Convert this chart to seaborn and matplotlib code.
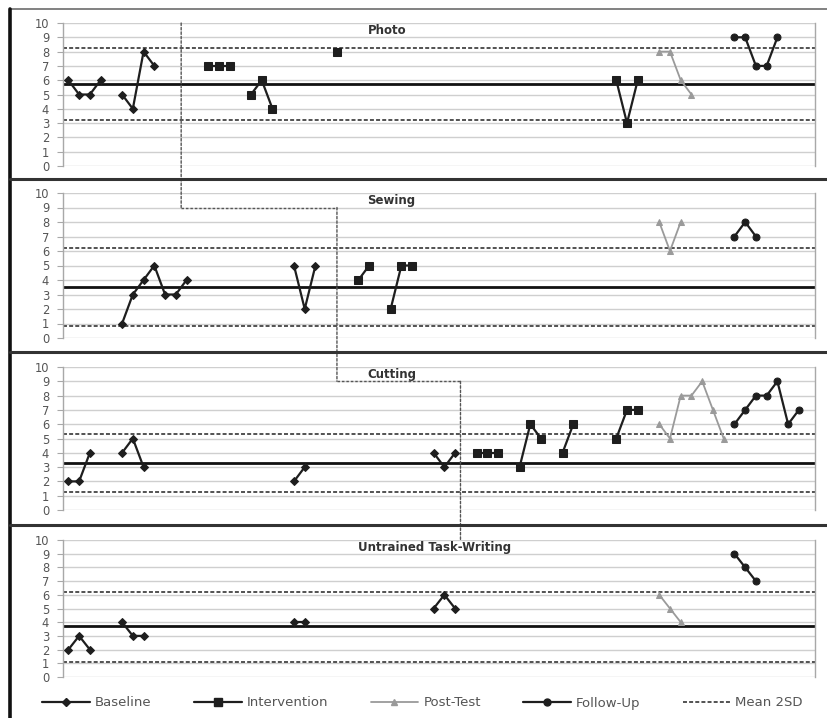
import numpy as np
import pandas as pd
import matplotlib
matplotlib.use("Agg")
import matplotlib.pyplot as plt
from matplotlib.lines import Line2D
from matplotlib.patches import ConnectionPatch
import seaborn as sns

# ---------------- data ----------------
panel_titles = ["Photo", "Sewing", "Cutting", "Untrained Task-Writing"]
y_ticks = [0, 1, 2, 3, 4, 5, 6, 7, 8, 9, 10]
n_sessions = 70

photo_bl_x = [0, 1, 2, 3, 5, 6, 7, 8]
photo_bl_y = [6, 5, 5, 6, 5, 4, 8, 7]
photo_int_x = [13, 14, 15, 17, 18, 19, 25, 51, 52, 53]
photo_int_y = [7, 7, 7, 5, 6, 4, 8, 6, 3, 6]
photo_pt_x = [55, 56, 57, 58]
photo_pt_y = [8, 8, 6, 5]
photo_fu_x = [62, 63, 64, 65, 66]
photo_fu_y = [9, 9, 7, 7, 9]

sewing_bl_x = [5, 6, 7, 8, 9, 10, 11, 21, 22, 23]
sewing_bl_y = [1, 3, 4, 5, 3, 3, 4, 5, 2, 5]
sewing_int_x = [27, 28, 30, 31, 32]
sewing_int_y = [4, 5, 2, 5, 5]
sewing_pt_x = [55, 56, 57]
sewing_pt_y = [8, 6, 8]
sewing_fu_x = [62, 63, 64]
sewing_fu_y = [7, 8, 7]

cutting_bl_x = [0, 1, 2, 5, 6, 7, 21, 22, 34, 35, 36]
cutting_bl_y = [2, 2, 4, 4, 5, 3, 2, 3, 4, 3, 4]
cutting_int_x = [38, 39, 40, 42, 43, 44, 46, 47, 51, 52, 53]
cutting_int_y = [4, 4, 4, 3, 6, 5, 4, 6, 5, 7, 7]
cutting_pt_x = [55, 56, 57, 58, 59, 60, 61]
cutting_pt_y = [6, 5, 8, 8, 9, 7, 5]
cutting_fu_x = [62, 63, 64, 65, 66, 67, 68]
cutting_fu_y = [6, 7, 8, 8, 9, 6, 7]

writing_bl_x = [0, 1, 2, 5, 6, 7, 21, 22, 34, 35, 36]
writing_bl_y = [2, 3, 2, 4, 3, 3, 4, 4, 5, 6, 5]
writing_pt_x = [55, 56, 57]
writing_pt_y = [6, 5, 4]
writing_fu_x = [62, 63, 64]
writing_fu_y = [9, 8, 7]

# baseline mean and mean +/- 2SD bands
band_mean = [5.75, 3.5, 3.3, 3.73]
band_upper = [8.25, 6.2, 5.3, 6.23]
band_lower = [3.2, 0.8, 1.27, 1.12]

# phase-change line: (session, step level)
phase_x = [10.5, 25.0, 36.5]
phase_step_y = 9

# ---------------- style ----------------
sns.set_theme(style="white")
plt.rcParams["font.family"] = ["DejaVu Sans"]

DARK = "#1e1e1e"
GRAY_PT = "#9a9a9a"
series_style = {
    "Baseline": dict(color=DARK, marker="D", markersize=3.6, linewidth=1.6),
    "Intervention": dict(color=DARK, marker="s", markersize=5.6, linewidth=1.6),
    "Post-Test": dict(color=GRAY_PT, marker="^", markersize=4.0, linewidth=1.3),
    "Follow-Up": dict(color=DARK, marker="o", markersize=5.0, linewidth=1.6),
}

panels = [
    {"Baseline": (photo_bl_x, photo_bl_y), "Intervention": (photo_int_x, photo_int_y),
     "Post-Test": (photo_pt_x, photo_pt_y), "Follow-Up": (photo_fu_x, photo_fu_y)},
    {"Baseline": (sewing_bl_x, sewing_bl_y), "Intervention": (sewing_int_x, sewing_int_y),
     "Post-Test": (sewing_pt_x, sewing_pt_y), "Follow-Up": (sewing_fu_x, sewing_fu_y)},
    {"Baseline": (cutting_bl_x, cutting_bl_y), "Intervention": (cutting_int_x, cutting_int_y),
     "Post-Test": (cutting_pt_x, cutting_pt_y), "Follow-Up": (cutting_fu_x, cutting_fu_y)},
    {"Baseline": (writing_bl_x, writing_bl_y),
     "Post-Test": (writing_pt_x, writing_pt_y), "Follow-Up": (writing_fu_x, writing_fu_y)},
]

W, H = 827, 718
fig = plt.figure(figsize=(W / 100, H / 100), dpi=100)

# axes rectangles in pixels: (top_px, bottom_px)
ax_px = [(23, 166), (193, 338), (367, 510), (540, 677)]
left_px, right_px = 63, 815
title_left = [0.405, 0.404, 0.405, 0.392]

axes = []
for i, (top, bot) in enumerate(ax_px):
    ax = fig.add_axes([left_px / W, 1 - bot / H, (right_px - left_px) / W, (bot - top) / H])
    axes.append(ax)
    ax.set_xlim(-0.5, n_sessions - 0.5)
    ax.set_ylim(0, 10)
    ax.set_yticks(y_ticks)
    ax.set_yticklabels([str(t) for t in y_ticks], fontsize=8.3, color="#555555")
    ax.set_xticks([])
    ax.grid(axis="y", color="#cfcfcf", linewidth=1.0)
    ax.set_axisbelow(True)
    for s in ["top", "bottom"]:
        ax.spines[s].set_visible(False)
    for s in ["left", "right"]:
        ax.spines[s].set_visible(True)
        ax.spines[s].set_color("#a8a8a8")
        ax.spines[s].set_linewidth(1.0)
    ax.tick_params(axis="y", which="major", left=True, length=4, width=0.8,
                   color="#a8a8a8", pad=6)
    ax.set_facecolor("white")

    # mean and mean +/- 2SD lines
    ax.axhline(band_mean[i], color="#111111", linewidth=2.0, zorder=2)
    for yv in (band_upper[i], band_lower[i]):
        ax.axhline(yv, color="#444444", linewidth=1.3, linestyle=(0, (2.2, 1.2)), zorder=2)

    # data series (segments break where sessions are missing)
    for name, (xs, ys) in panels[i].items():
        xs = np.asarray(xs)
        seg = np.concatenate([[0], np.cumsum(np.diff(xs) > 1)])
        df = pd.DataFrame({"session": xs, "score": ys, "seg": seg})
        st = series_style[name]
        sns.lineplot(data=df, x="session", y="score", units="seg", estimator=None,
                     sort=False, ax=ax, legend=False, color=st["color"],
                     marker=st["marker"], markersize=st["markersize"],
                     linewidth=st["linewidth"], markeredgecolor=st["color"],
                     markerfacecolor=st["color"], zorder=4)
    ax.set_xlabel("")
    ax.set_ylabel("")

    ax.text(title_left[i], 0.945, panel_titles[i], transform=ax.transAxes,
            fontsize=8.5, fontweight="bold", color="#333333", va="center", ha="left")

# phase change line (stepped across panels)
pstyle = dict(color="#555555", linewidth=1.0, linestyle=(0, (1.8, 1.4)))
con = ConnectionPatch(xyA=(phase_x[0], 10), coordsA="data", axesA=axes[0],
                      xyB=(phase_x[0], phase_step_y), coordsB="data", axesB=axes[1], **pstyle)
fig.add_artist(con)
axes[1].plot([phase_x[0], phase_x[1]], [phase_step_y, phase_step_y], **pstyle, zorder=3)
con = ConnectionPatch(xyA=(phase_x[1], phase_step_y), coordsA="data", axesA=axes[1],
                      xyB=(phase_x[1], phase_step_y), coordsB="data", axesB=axes[2], **pstyle)
fig.add_artist(con)
axes[2].plot([phase_x[1], phase_x[2]], [phase_step_y, phase_step_y], **pstyle, zorder=3)
con = ConnectionPatch(xyA=(phase_x[2], phase_step_y), coordsA="data", axesA=axes[2],
                      xyB=(phase_x[2], 10), coordsB="data", axesB=axes[3], **pstyle)
fig.add_artist(con)

# frame lines: top border, left border, panel separators
fig.add_artist(Line2D([10 / W, 1], [1 - 9 / H, 1 - 9 / H], color="#777777", linewidth=1.3,
                      transform=fig.transFigure))
fig.add_artist(Line2D([10 / W, 10 / W], [0, 1 - 9 / H], color="#111111", linewidth=2.6,
                      transform=fig.transFigure))
for ypx in (179, 352, 525):
    fig.add_artist(Line2D([10 / W, 1], [1 - ypx / H, 1 - ypx / H], color="#333333",
                          linewidth=2.2, transform=fig.transFigure))

# legend
handles = [Line2D([], [], **series_style[n], markeredgecolor=series_style[n]["color"])
           for n in series_style]
handles.append(Line2D([], [], color="#444444", linewidth=1.3, linestyle=(0, (2.2, 1.2))))
labels = ["Baseline", "Intervention", "Post-Test", "Follow-Up", "Mean 2SD"]
leg = fig.legend(handles, labels, loc="center", bbox_to_anchor=(0.511, 1 - 703 / H), ncol=5,
                 frameon=False, fontsize=9.5, handlelength=3.6, columnspacing=3.2,
                 handletextpad=0.4)
for t in leg.get_texts():
    t.set_color("#555555")

fig.savefig("out.png", dpi=100, facecolor="white")
